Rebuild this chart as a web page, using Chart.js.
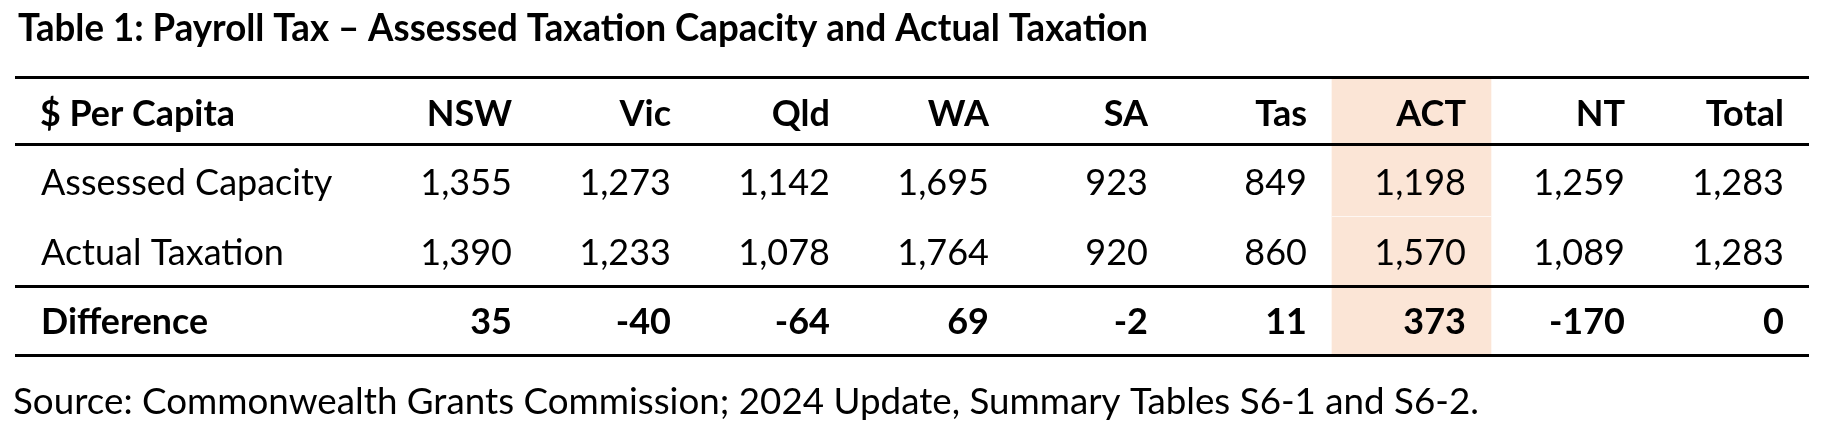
<!DOCTYPE html>
<html>
<head>
<meta charset="utf-8">
<title>Payroll Tax – Assessed Taxation Capacity and Actual Taxation</title>
<script src="https://cdn.jsdelivr.net/npm/chart.js@4.4.1/dist/chart.umd.min.js"></script>
<style>
  html, body { margin: 0; padding: 0; background: #fff; }
  #wrap { position: relative; width: 1836px; height: 436px; }
</style>
</head>
<body>
<div id="wrap"><canvas id="payrollTable"></canvas></div>
<script>
// table content
var titleText = 'Table 1: Payroll Tax – Assessed Taxation Capacity and Actual Taxation';
var sourceText = 'Source: Commonwealth Grants Commission; 2024 Update, Summary Tables S6-1 and S6-2.';
var headerLabel = '$ Per Capita';
var states = ['NSW', 'Vic', 'Qld', 'WA', 'SA', 'Tas', 'ACT', 'NT', 'Total'];
var rowLabels = ['Assessed Capacity', 'Actual Taxation', 'Difference'];
var assessedCapacity = [1355, 1273, 1142, 1695, 923, 849, 1198, 1259, 1283];
var actualTaxation = [1390, 1233, 1078, 1764, 920, 860, 1570, 1089, 1283];
var difference = [35, -40, -64, 69, -2, 11, 373, -170, 0];
var highlightState = 'ACT';

var rowCount = rowLabels.length + 1; // header + body rows
var labelColWidth = 363;
var cellPad = 25;

function fmt(n) {
  return n.toLocaleString('en-US');
}

var tablePlugin = {
  id: 'tableText',
  afterDatasetsDraw: function(chart) {
    var ctx = chart.ctx;
    var x = chart.scales.x;
    var y = chart.scales.y;
    var area = chart.chartArea;
    var band = x.getPixelForValue(1) - x.getPixelForValue(0);
    var left = area.left - labelColWidth;
    var rows = [assessedCapacity, actualTaxation, difference];

    ctx.save();

    // faint split inside the shaded column
    var hi = states.indexOf(highlightState);
    var hx = x.getPixelForValue(hi);
    var sy = Math.round(y.getPixelForValue(2)) + 0.5;
    ctx.strokeStyle = 'rgba(255,255,255,0.7)';
    ctx.lineWidth = 1;
    ctx.beginPath();
    ctx.moveTo(hx - band / 2, sy);
    ctx.lineTo(hx + band / 2, sy);
    ctx.stroke();

    // rules: top, under header (header row is a bit shorter), above difference, bottom
    ctx.strokeStyle = '#000';
    ctx.lineWidth = 3;
    [0, 1, rowCount - 1, rowCount].forEach(function(r) {
      var py = Math.round(y.getPixelForValue(r) - (r === 1 ? 3 : 0)) + 0.5;
      ctx.beginPath();
      ctx.moveTo(left, py);
      ctx.lineTo(area.right, py);
      ctx.stroke();
    });

    ctx.fillStyle = '#000';
    ctx.textBaseline = 'alphabetic';

    // title and source
    ctx.textAlign = 'left';
    ctx.font = 'bold 38px Lato';
    ctx.fillText(titleText, left + 3, area.top - 36, 1130);
    ctx.font = '37px Lato';
    ctx.fillText(sourceText, left - 2, area.bottom + 59, 1466);

    // header row
    var hy = y.getPixelForValue(0.5) + 14;
    ctx.font = 'bold 36px Lato';
    ctx.textAlign = 'left';
    ctx.fillText(headerLabel, left + cellPad, hy, 195);
    ctx.textAlign = 'right';
    states.forEach(function(s, i) {
      ctx.fillText(s, x.getPixelForValue(i) + band / 2 - cellPad, hy);
    });

    // body rows
    var labelWidths = [292, 258, 167];
    rows.forEach(function(vals, r) {
      var py = y.getPixelForValue(r + 1.5) + 14;
      var bold = r === rows.length - 1;
      ctx.font = (bold ? 'bold ' : '') + '36px Lato';
      ctx.textAlign = 'left';
      ctx.fillText(rowLabels[r], left + cellPad + 1, py, labelWidths[r]);
      ctx.textAlign = 'right';
      vals.forEach(function(v, i) {
        ctx.fillText(fmt(v), x.getPixelForValue(i) + band / 2 - cellPad, py);
      });
    });

    ctx.restore();
  }
};

function draw() {
  Chart.defaults.font.family = 'Lato';
  var ctx = document.getElementById('payrollTable').getContext('2d');
  new Chart(ctx, {
    type: 'bar',
    data: {
      labels: states,
      datasets: [{
        // shaded ACT column, spanning every row
        data: states.map(function(s) { return s === highlightState ? [0, rowCount] : null; }),
        backgroundColor: '#FBE5D6',
        borderWidth: 0,
        barPercentage: 1,
        categoryPercentage: 1
      }]
    },
    options: {
      responsive: true,
      maintainAspectRatio: false,
      animation: false,
      events: [],
      layout: { padding: { left: 378, right: 27, top: 77, bottom: 81 } },
      scales: {
        x: { display: false, offset: true },
        y: { display: false, min: 0, max: rowCount, reverse: true }
      },
      plugins: {
        legend: { display: false },
        tooltip: { enabled: false }
      }
    },
    plugins: [tablePlugin]
  });
}

if (document.fonts && document.fonts.load) {
  Promise.all([document.fonts.load('36px Lato'), document.fonts.load('bold 36px Lato')]).then(draw, draw);
} else {
  draw();
}
</script>
</body>
</html>
